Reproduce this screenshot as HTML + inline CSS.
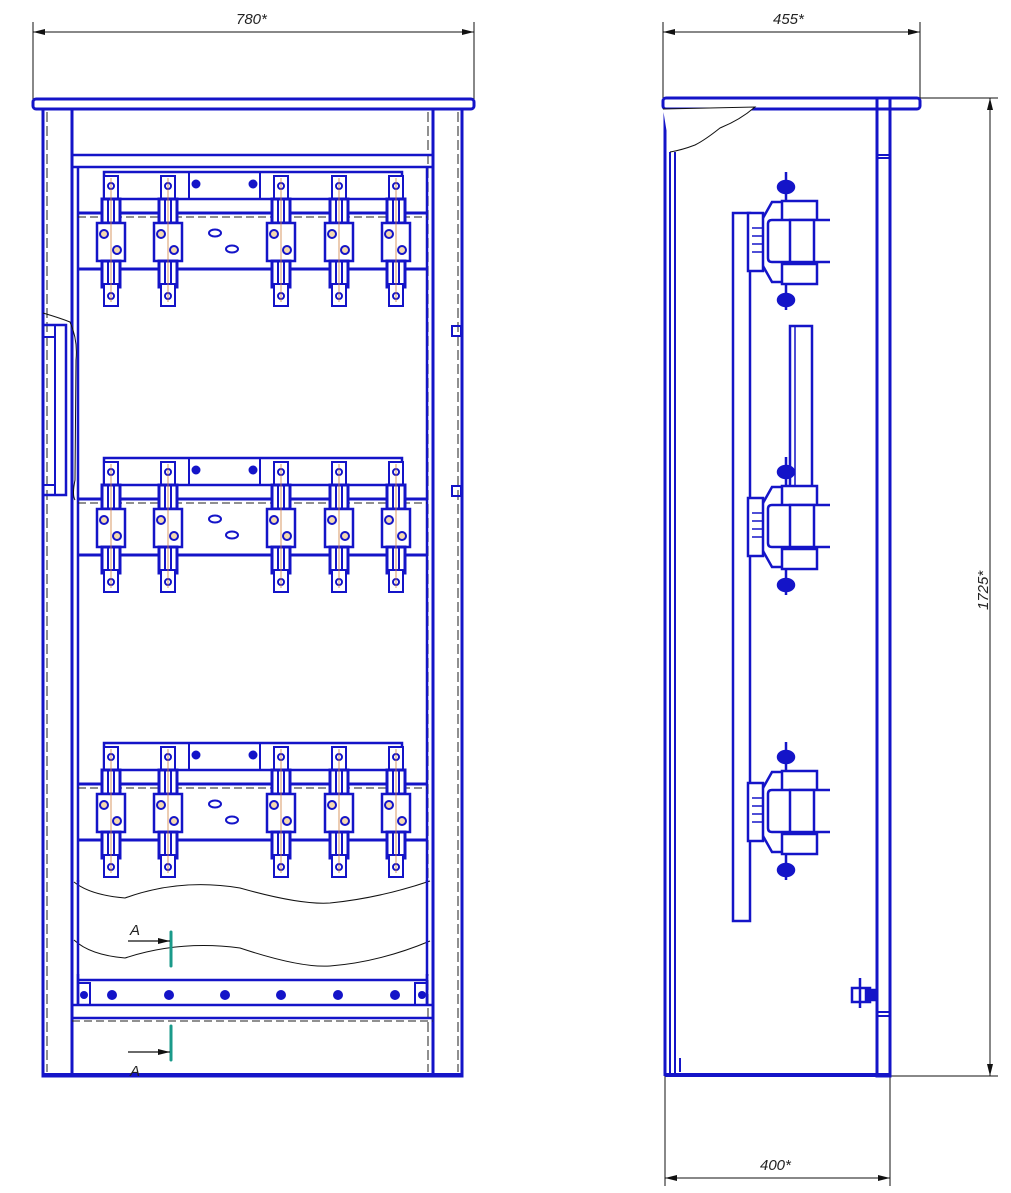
<!DOCTYPE html>
<html><head><meta charset="utf-8"><style>
html,body{margin:0;padding:0;background:#fff}
svg{display:block}
text{font-family:"Liberation Sans",sans-serif;font-style:italic;font-size:15px;fill:#222}
</style></head><body>
<svg width="1011" height="1193" viewBox="0 0 1011 1193" xmlns="http://www.w3.org/2000/svg">
<defs>
<marker id="ar" markerWidth="12" markerHeight="6" refX="12" refY="3" orient="auto" markerUnits="userSpaceOnUse"><path d="M0,0 L12,3 L0,6z" fill="#111"/></marker>
<marker id="al" markerWidth="12" markerHeight="6" refX="0" refY="3" orient="auto" markerUnits="userSpaceOnUse"><path d="M12,0 L0,3 L12,6z" fill="#111"/></marker>
<g id="ins" fill="#fff" stroke="#1414c8" stroke-width="2">
  <rect x="-7" y="4" width="14" height="24"/>
  <circle cx="0" cy="14" r="3" stroke-width="2"/>
  <rect x="-9" y="27" width="18" height="24" stroke-width="3"/>
  <line x1="-3" y1="27" x2="-3" y2="51"/><line x1="3" y1="27" x2="3" y2="51"/>
  <rect x="-14" y="51" width="28" height="38" stroke-width="2.5"/>
  <circle cx="-7" cy="62" r="4" fill="#f4d9b0"/><circle cx="6" cy="78" r="4" fill="#f4d9b0"/>
  <rect x="-9" y="89" width="18" height="26" stroke-width="3"/>
  <line x1="-3" y1="89" x2="-3" y2="115"/><line x1="3" y1="89" x2="3" y2="115"/>
  <rect x="-7" y="112" width="14" height="22"/>
  <circle cx="0" cy="124" r="3"/>
  <line x1="0" y1="6" x2="0" y2="130" stroke="#d08040" stroke-width="0.8"/>
</g>
<g id="grp" stroke="#1414c8" fill="none">
  <rect x="104" y="0" width="298" height="27" stroke-width="2.5" fill="#fff"/>
  <line x1="189" y1="0" x2="189" y2="27" stroke-width="2"/>
  <line x1="260" y1="0" x2="260" y2="27" stroke-width="2"/>
  <circle cx="196" cy="12" r="4" fill="#1414c8"/><circle cx="253" cy="12" r="4" fill="#1414c8"/>
  <line x1="78" y1="41" x2="427" y2="41" stroke-width="3"/>
  <line x1="78" y1="45" x2="427" y2="45" stroke-width="1" stroke="#222" stroke-dasharray="8,4"/>
  <line x1="78" y1="97" x2="427" y2="97" stroke-width="3"/>
  <ellipse cx="215" cy="61" rx="6" ry="3.5" stroke-width="2"/>
  <ellipse cx="232" cy="77" rx="6" ry="3.5" stroke-width="2"/>
  <use href="#ins" x="111"/><use href="#ins" x="168"/><use href="#ins" x="281"/><use href="#ins" x="339"/><use href="#ins" x="396"/>
</g>
<g id="sins" stroke="#1414c8" fill="#fff" stroke-width="2.5">
  <line x1="786" y1="-68" x2="786" y2="-38"/>
  <ellipse cx="786" cy="-53" rx="8" ry="6" fill="#1414c8"/>
  <line x1="786" y1="45" x2="786" y2="70"/>
  <ellipse cx="786" cy="60" rx="8" ry="6" fill="#1414c8"/>
  <rect x="748" y="-27" width="15" height="58"/>
  <line x1="752" y1="-12" x2="763" y2="-12" stroke-width="1.5"/><line x1="752" y1="-4" x2="763" y2="-4" stroke-width="1.5"/>
  <line x1="752" y1="4" x2="763" y2="4" stroke-width="1.5"/><line x1="752" y1="12" x2="763" y2="12" stroke-width="1.5"/>
  <path d="M763,-22 L772,-38 L782,-38 M763,26 L772,42 L782,42" fill="none"/>
  <rect x="782" y="-39" width="35" height="20"/>
  <rect x="782" y="24" width="35" height="20"/>
  <path d="M830,-20 L772,-20 Q768,-20 768,-16 L768,18 Q768,22 772,22 L830,22" fill="#fff"/>
  <rect x="790" y="-20" width="24" height="42"/>
</g>
</defs>

<!-- FRONT VIEW -->
<g stroke="#111" stroke-width="1" fill="none">
  <line x1="33" y1="22" x2="33" y2="100"/><line x1="474" y1="22" x2="474" y2="100"/>
  <line x1="33" y1="32" x2="474" y2="32" marker-start="url(#al)" marker-end="url(#ar)"/>
</g>
<text x="236" y="24">780*</text>

<g stroke="#1414c8" fill="none">
  <rect x="33" y="99" width="441" height="10" rx="3" stroke-width="3" fill="#fff"/>
  <rect x="43" y="109" width="419" height="967" stroke-width="3"/>
  <line x1="72" y1="109" x2="72" y2="1076" stroke-width="3"/>
  <line x1="433" y1="109" x2="433" y2="1076" stroke-width="3"/>
  <line x1="47" y1="112" x2="47" y2="1072" stroke="#222" stroke-width="1" stroke-dasharray="10,4"/>
  <line x1="458" y1="112" x2="458" y2="1072" stroke="#222" stroke-width="1" stroke-dasharray="10,4"/>
  <line x1="428" y1="112" x2="428" y2="1072" stroke="#222" stroke-width="1" stroke-dasharray="10,4"/>
  <rect x="72" y="155" width="361" height="12" stroke-width="2.5"/>
  <line x1="78" y1="167" x2="78" y2="1005" stroke-width="2.5"/>
  <line x1="427" y1="167" x2="427" y2="1005" stroke-width="2.5"/>
  <rect x="43" y="325" width="23" height="170" stroke-width="2.5"/>
  <line x1="55" y1="325" x2="55" y2="495" stroke-width="2"/>
  <line x1="43" y1="337" x2="55" y2="337" stroke-width="2"/><line x1="43" y1="485" x2="55" y2="485" stroke-width="2"/>
  <rect x="452" y="326" width="9" height="10" stroke-width="2"/>
  <rect x="452" y="486" width="9" height="10" stroke-width="2"/>
</g>
<path d="M43,313 Q60,318 70,322 Q78,340 76,360 L75,480 Q72,495 75,500" stroke="#111" fill="none" stroke-width="1"/>

<use href="#grp" y="172"/>
<use href="#grp" y="458"/>
<use href="#grp" y="743"/>

<!-- lower area -->
<g fill="#fff">
<rect x="74" y="882" width="356" height="92" stroke="none"/>
</g>
<path d="M74,882 Q90,895 125,898 Q180,878 240,888 Q300,905 330,903 Q380,898 430,881" stroke="#111" fill="none" stroke-width="1"/>
<path d="M74,940 Q90,955 125,958 Q180,940 240,948 Q300,968 330,966 Q380,962 430,941" stroke="#111" fill="none" stroke-width="1"/>
<g stroke="#1414c8" fill="none">
  <line x1="78" y1="880" x2="78" y2="1005" stroke-width="2.5"/>
  <line x1="427" y1="880" x2="427" y2="1005" stroke-width="2.5"/>
  <line x1="78" y1="980" x2="427" y2="980" stroke-width="2.5"/>
  <line x1="72" y1="1005" x2="433" y2="1005" stroke-width="2.5"/>
  <line x1="72" y1="1018" x2="433" y2="1018" stroke-width="2.5"/>
  <line x1="72" y1="1021" x2="433" y2="1021" stroke="#222" stroke-width="1" stroke-dasharray="8,4"/>
  <rect x="78" y="983" width="12" height="22" stroke-width="2"/>
  <rect x="415" y="983" width="12" height="22" stroke-width="2"/>
  <line x1="43" y1="1075" x2="462" y2="1075" stroke-width="4"/>
</g>
<g fill="#1414c8">
  <circle cx="84" cy="995" r="4"/><circle cx="112" cy="995" r="5"/><circle cx="169" cy="995" r="5"/><circle cx="225" cy="995" r="5"/>
  <circle cx="281" cy="995" r="5"/><circle cx="338" cy="995" r="5"/><circle cx="395" cy="995" r="5"/><circle cx="422" cy="995" r="4"/>
</g>
<g stroke="#1a9a8a" stroke-width="3" stroke-linecap="round">
  <line x1="171" y1="932" x2="171" y2="966"/>
  <line x1="171" y1="1026" x2="171" y2="1060"/>
</g>
<g stroke="#111" stroke-width="1.2">
  <line x1="128" y1="941" x2="170" y2="941" marker-end="url(#ar)"/>
  <line x1="128" y1="1052" x2="170" y2="1052" marker-end="url(#ar)"/>
</g>
<text x="130" y="935" font-size="18">A</text>
<text x="130" y="1076" font-size="18">A</text>

<!-- SIDE VIEW -->
<g stroke="#111" stroke-width="1" fill="none">
  <line x1="663" y1="22" x2="663" y2="98"/><line x1="920" y1="22" x2="920" y2="98"/>
  <line x1="663" y1="32" x2="920" y2="32" marker-start="url(#al)" marker-end="url(#ar)"/>
  <line x1="890" y1="98" x2="998" y2="98"/><line x1="890" y1="1076" x2="998" y2="1076"/>
  <line x1="990" y1="98" x2="990" y2="1076" marker-start="url(#al)" marker-end="url(#ar)"/>
  <line x1="665" y1="1076" x2="665" y2="1186"/><line x1="890" y1="1076" x2="890" y2="1186"/>
  <line x1="665" y1="1178" x2="890" y2="1178" marker-start="url(#al)" marker-end="url(#ar)"/>
</g>
<text x="773" y="24">455*</text>
<text x="760" y="1170">400*</text>
<text transform="translate(988,610) rotate(-90)">1725*</text>

<g stroke="#1414c8" fill="none">
  <rect x="663" y="98" width="257" height="11" rx="3" stroke-width="3" fill="#fff"/>
  <line x1="665" y1="109" x2="665" y2="1076" stroke-width="3"/>
  <line x1="670" y1="152" x2="670" y2="1076" stroke-width="2"/>
  <line x1="675" y1="152" x2="675" y2="1076" stroke-width="2"/>
  <rect x="877" y="98" width="13" height="978" stroke-width="3"/>
  <line x1="877" y1="155" x2="890" y2="155" stroke-width="2"/><line x1="877" y1="158" x2="890" y2="158" stroke-width="2"/>
  <line x1="877" y1="1012" x2="890" y2="1012" stroke-width="2"/><line x1="877" y1="1016" x2="890" y2="1016" stroke-width="2"/>
  <line x1="665" y1="1075" x2="890" y2="1075" stroke-width="4"/>
  <line x1="680" y1="1058" x2="680" y2="1072" stroke-width="2"/>
  <rect x="733" y="213" width="17" height="708" stroke-width="2.5" fill="#fff"/>
  <rect x="790" y="326" width="22" height="164" stroke-width="2.5" fill="#fff"/>
  <line x1="795" y1="326" x2="795" y2="490" stroke-width="1.5"/>
</g>
<path d="M663,109 L755,107 Q740,120 720,128 Q705,140 695,145 Q682,150 670,152" fill="#fff" stroke="#111" stroke-width="1"/>
<use href="#sins" y="240"/>
<use href="#sins" y="525"/>
<use href="#sins" y="810"/>
<g stroke="#1414c8" stroke-width="2.5" fill="#fff">
  <rect x="852" y="988" width="18" height="14"/>
  <line x1="860" y1="978" x2="860" y2="1008"/>
  <rect x="866" y="990" width="10" height="10" fill="#1414c8"/>
</g>
</svg>
</body></html>
